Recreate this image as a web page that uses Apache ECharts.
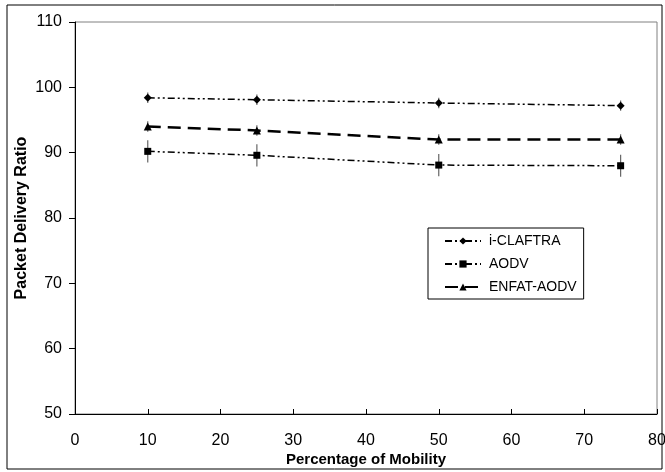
<!DOCTYPE html>
<html>
<head>
<meta charset="utf-8">
<script src="https://cdn.jsdelivr.net/npm/echarts@6/dist/echarts.min.js"></script>
<style>
  html, body { margin: 0; padding: 0; background: #fff; }
  #chart { width: 665px; height: 472px; }
</style>
</head>
<body>
<div id="chart"></div>
<script>
// mobility values on the x axis
const mobility = [10, 25, 50, 75];

// packet delivery ratio per protocol
const claftra = [98.4, 98.1, 97.6, 97.2];
const aodv = [90.2, 89.6, 88.1, 88.0];
const enfat = [94.0, 93.4, 92.0, 92.0];

// half length of the error bars
const claftraErr = [0.8, 0.8, 0.8, 0.8];
const aodvErr = [1.7, 1.7, 1.7, 1.7];
const enfatErr = [0.8, 0.8, 0.8, 0.8];

const font = 'Liberation Sans, Arial, sans-serif';

function pairs(ys) {
  return mobility.map((x, i) => [x, ys[i]]);
}

function errData(ys, errs) {
  return mobility.map((x, i) => [x, ys[i], errs[i]]);
}

function errSeries(ys, errs) {
  return {
    type: 'custom',
    silent: true,
    z: 1,
    data: errData(ys, errs),
    renderItem: function (params, api) {
      const x = api.value(0);
      const y = api.value(1);
      const e = api.value(2);
      const top = api.coord([x, y + e]);
      const bot = api.coord([x, y - e]);
      return {
        type: 'line',
        shape: { x1: top[0], y1: top[1], x2: bot[0], y2: bot[1] },
        style: { stroke: '#666', lineWidth: 1.2 }
      };
    }
  };
}

let chart = echarts.init(document.getElementById('chart'));

let chart_options = {
  backgroundColor: '#fff',
  animation: false,
  textStyle: { fontFamily: font },
  grid: {
    left: 75, right: 8, top: 22, bottom: 58,
    outerBoundsMode: 'none',
    show: true, borderColor: '#808080', borderWidth: 1
  },
  graphic: [{
    type: 'rect',
    shape: { x: 7, y: 5, width: 655, height: 464 },
    style: { fill: 'none', stroke: '#000', lineWidth: 1 },
    silent: true
  }],
  legend: {
    orient: 'vertical',
    left: 428, top: 228,
    padding: [6, 7, 5, 16],
    borderColor: '#000', borderWidth: 1,
    itemWidth: 36, itemHeight: 9, itemGap: 9,
    textStyle: { fontFamily: font, fontSize: 14, color: '#000', padding: [0, 0, 0, 3] },
    data: ['i-CLAFTRA', 'AODV', 'ENFAT-AODV']
  },
  xAxis: {
    type: 'value',
    min: 0, max: 80, interval: 10,
    name: 'Percentage of Mobility',
    nameLocation: 'middle', nameGap: 38,
    nameMoveOverlap: false,
    nameTextStyle: { fontFamily: font, fontSize: 15, fontWeight: 'bold', color: '#000' },
    axisLine: { lineStyle: { color: '#000', width: 1 } },
    axisTick: { inside: true, length: 5, lineStyle: { color: '#000' } },
    axisLabel: { fontFamily: font, fontSize: 16, color: '#000', margin: 19 },
    splitLine: { show: false }
  },
  yAxis: {
    type: 'value',
    min: 50, max: 110, interval: 10,
    name: 'Packet Delivery Ratio',
    nameLocation: 'middle', nameGap: 45,
    nameMoveOverlap: false,
    nameTextStyle: { fontFamily: font, fontSize: 16, fontWeight: 'bold', color: '#000' },
    axisLine: { show: true, lineStyle: { color: '#000', width: 1 } },
    axisTick: { show: true, inside: false, length: 6, lineStyle: { color: '#000' } },
    axisLabel: { fontFamily: font, fontSize: 16, color: '#000', margin: 13 },
    splitLine: { show: false }
  },
  series: [
    errSeries(claftra, claftraErr),
    errSeries(aodv, aodvErr),
    errSeries(enfat, enfatErr),
    {
      name: 'i-CLAFTRA',
      type: 'line',
      z: 3,
      data: pairs(claftra),
      symbol: 'diamond', symbolSize: 8,
      itemStyle: { color: '#000' },
      lineStyle: { color: '#000', width: 1.5, type: [7, 3, 2, 3, 2, 3] }
    },
    {
      name: 'AODV',
      type: 'line',
      z: 3,
      data: pairs(aodv),
      symbol: 'rect', symbolSize: 7,
      itemStyle: { color: '#000' },
      lineStyle: { color: '#000', width: 1.5, type: [7, 3, 2, 3, 2, 3] }
    },
    {
      name: 'ENFAT-AODV',
      type: 'line',
      z: 3,
      data: pairs(enfat),
      symbol: 'triangle', symbolSize: 8,
      itemStyle: { color: '#000' },
      lineStyle: { color: '#000', width: 2.5, type: [13, 7] }
    }
  ]
};

chart.setOption(chart_options);
</script>
</body>
</html>
